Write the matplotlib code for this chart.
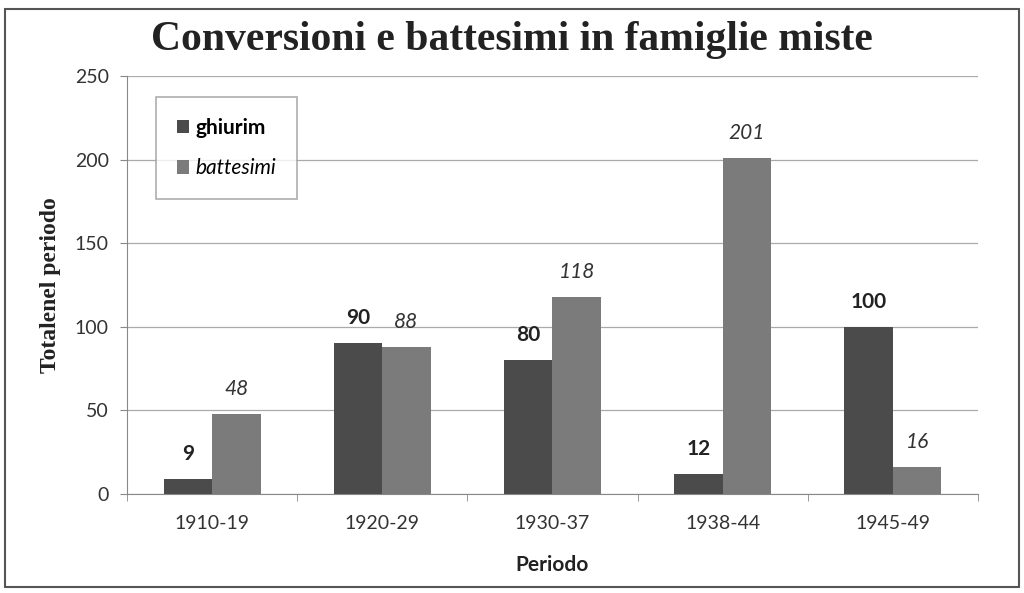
import matplotlib
matplotlib.use("Agg")
import matplotlib.pyplot as plt
import matplotlib.patches as mpatches
import numpy as np

# ── Data ──────────────────────────────────────────────────────────────────────
periods   = ["1910-19", "1920-29", "1930-37", "1938-44", "1945-49"]
ghiurim   = [9, 90, 80, 12, 100]
battesimi = [48, 88, 118, 201, 16]

DARK  = "#4b4b4b"
LIGHT = "#7b7b7b"
SANS  = "Lato"
SERIF = "Liberation Serif"

fig = plt.figure(figsize=(10.24, 5.93), dpi=100)
ax = fig.add_axes([0.124, 0.167, 0.831, 0.705])

x = np.arange(len(periods))
w = 0.285
ax.bar(x - w / 2, ghiurim, w, color=DARK, label="ghiurim", zorder=3)
ax.bar(x + w / 2, battesimi, w, color=LIGHT, label="battesimi", zorder=3)

for xi, v in zip(x, ghiurim):
    ax.text(xi - w / 2, v + 9, str(v), ha="center", va="bottom",
            fontsize=15, fontweight="bold", family=SANS, color="#222222")
for xi, v in zip(x, battesimi):
    ax.text(xi + w / 2, v + 9, str(v), ha="center", va="bottom",
            fontsize=15, fontstyle="italic", family=SANS, color="#333333")

ax.set_xlim(-0.5, len(periods) - 0.5)
ax.set_ylim(0, 250)
ax.set_yticks(range(0, 251, 50))
ax.set_xticks(x)
ax.set_xticklabels(periods, family=SANS, fontsize=14, color="#333333")
ax.tick_params(axis="x", length=0, pad=15)
ax.tick_params(axis="y", labelsize=14, colors="#333333", length=5, color="#888888", pad=8)
for lab in ax.get_yticklabels():
    lab.set_family(SANS)
# category separator ticks on x axis
ax.set_xticks(np.arange(-0.5, len(periods)), minor=True)
ax.tick_params(axis="x", which="minor", length=5, color="#888888")

ax.grid(axis="y", color="#aaaaaa", linewidth=0.9, zorder=0)
for s in ["top", "right"]:
    ax.spines[s].set_visible(False)
ax.spines["left"].set_color("#888888")
ax.spines["bottom"].set_color("#888888")

ax.set_xlabel("Periodo", family=SANS, fontsize=15, fontweight="bold",
              color="#222222", labelpad=17)
ax.set_ylabel("Totalenel periodo", family=SERIF, fontsize=17, fontweight="bold",
              color="#222222", labelpad=10)

fig.text(0.5, 0.933, "Conversioni e battesimi in famiglie miste", ha="center",
         va="center", family=SERIF, fontsize=30, fontweight="bold", color="#222222")

leg = ax.legend(loc="upper left", bbox_to_anchor=(0.022, 0.975), frameon=True,
                fancybox=False, handlelength=0.6, handleheight=0.6,
                handletextpad=0.3, labelspacing=1.0, borderpad=1.0,
                prop={"family": SANS, "size": 15})
leg.get_frame().set_edgecolor("#999999")
leg.get_frame().set_linewidth(1.2)
texts = leg.get_texts()
texts[0].set_fontweight("bold")
texts[1].set_fontstyle("italic")

# outer border
fig.patches.append(mpatches.Rectangle((0.005, 0.01), 0.99, 0.975, fill=False,
                                      edgecolor="#555555", linewidth=1.5,
                                      transform=fig.transFigure))

fig.savefig("out.png", dpi=100)
